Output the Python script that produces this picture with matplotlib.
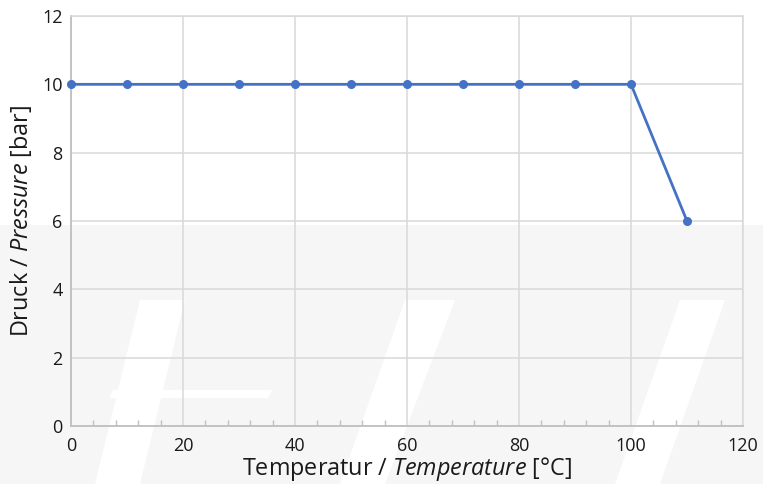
import matplotlib
matplotlib.use("Agg")
import matplotlib.pyplot as plt
from matplotlib.patches import Polygon
from matplotlib.ticker import MultipleLocator

temperature = [0, 10, 20, 30, 40, 50, 60, 70, 80, 90, 100, 110]
pressure = [10, 10, 10, 10, 10, 10, 10, 10, 10, 10, 10, 6]

x_ticks = [0, 20, 40, 60, 80, 100, 120]
y_ticks = [0, 2, 4, 6, 8, 10, 12]

plt.rcParams["font.family"] = ["Open Sans", "DejaVu Sans"]
plt.rcParams["mathtext.fontset"] = "custom"
plt.rcParams["mathtext.rm"] = "Open Sans"
plt.rcParams["mathtext.it"] = "Open Sans:italic"

W, H = 763, 484
fig = plt.figure(figsize=(W / 100, H / 100), dpi=100)


def px(pts):
    # pixel coords (origin top-left) -> figure fraction
    return [(x / W, 1 - y / H) for x, y in pts]


# faint watermark logo in the background
wm_grey = "#f6f6f6"
fig.patches.append(Polygon(px([(0, 225), (763, 225), (763, 484), (0, 484)]),
                           closed=True, transform=fig.transFigure,
                           facecolor=wm_grey, edgecolor="none", zorder=0))
for shape in [
    [(140, 300), (185, 300), (140, 484), (95, 484)],
    [(112, 390), (272, 390), (268, 398), (110, 398)],
    [(405, 300), (455, 300), (385, 484), (340, 484)],
    [(680, 300), (725, 300), (660, 484), (615, 484)],
]:
    fig.patches.append(Polygon(px(shape), closed=True, transform=fig.transFigure,
                               facecolor="white", edgecolor="none", zorder=0))

ax = fig.add_axes([71 / W, 1 - 426 / H, (743 - 71) / W, (426 - 16) / H])
ax.set_zorder(2)
ax.set_facecolor("none")

ax.plot(temperature, pressure, color="#4472C4", linewidth=2.0,
        marker="o", markersize=5.5, zorder=3, clip_on=False)

ax.set_xlim(0, 120)
ax.set_ylim(0, 12)
ax.set_xticks(x_ticks)
ax.set_yticks(y_ticks)
ax.xaxis.set_minor_locator(MultipleLocator(4))

ax.grid(True, which="major", color="#d9d9d9", linewidth=1.1)
ax.set_axisbelow(True)

for side in ["top", "right"]:
    ax.spines[side].set_color("#d9d9d9")
    ax.spines[side].set_linewidth(1.1)
for side in ["left", "bottom"]:
    ax.spines[side].set_color("#bfbfbf")
    ax.spines[side].set_linewidth(1.3)

ax.tick_params(axis="both", which="major", length=0, labelsize=13,
               labelcolor="#1a1a1a")
ax.tick_params(axis="x", which="major", pad=8)
ax.tick_params(axis="y", which="major", pad=6)
ax.tick_params(axis="x", which="minor", direction="in", length=4,
               color="#bfbfbf", width=1)
ax.tick_params(axis="y", which="minor", length=0)

ax.set_xlabel(r"Temperatur / $\mathit{Temperature}$ [°C]", fontsize=16.8,
              color="#1a1a1a", labelpad=0)
ax.set_ylabel(r"Druck / $\mathit{Pressure}$ [bar]", fontsize=16.8,
              color="#1a1a1a", labelpad=6)

fig.savefig("out.png", dpi=100)
